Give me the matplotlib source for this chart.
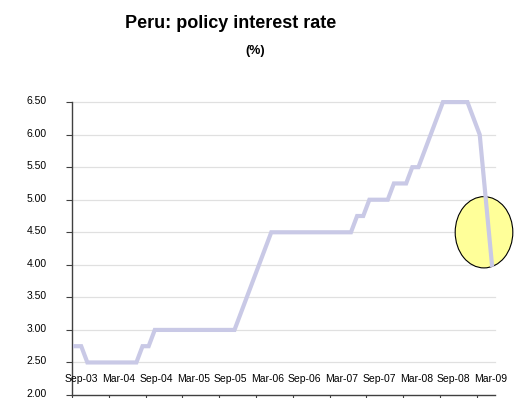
import matplotlib
matplotlib.use('Agg')
import matplotlib.pyplot as plt
from matplotlib.patches import Ellipse
import matplotlib.transforms as mtransforms
import numpy as np

plt.rcParams['font.family'] = ['Liberation Sans', 'DejaVu Sans']

# monthly policy rate [%], Sep-03 .. May-09
rate = [
    2.75, 2.75, 2.50, 2.50, 2.50, 2.50, 2.50, 2.50, 2.50, 2.50, 2.50, 2.75,
    2.75, 3.00, 3.00, 3.00, 3.00, 3.00, 3.00, 3.00, 3.00, 3.00, 3.00, 3.00,
    3.00, 3.00, 3.00, 3.25, 3.50, 3.75, 4.00, 4.25, 4.50, 4.50, 4.50, 4.50,
    4.50, 4.50, 4.50, 4.50, 4.50, 4.50, 4.50, 4.50, 4.50, 4.50, 4.75, 4.75,
    5.00, 5.00, 5.00, 5.00, 5.25, 5.25, 5.25, 5.50, 5.50, 5.75, 6.00, 6.25,
    6.50, 6.50, 6.50, 6.50, 6.50, 6.25, 6.00, 5.00, 4.00,
]
tick_labels = ['Sep-03', 'Mar-04', 'Sep-04', 'Mar-05', 'Sep-05', 'Mar-06',
               'Sep-06', 'Mar-07', 'Sep-07', 'Mar-08', 'Sep-08', 'Mar-09']
yticks = [2.00, 2.50, 3.00, 3.50, 4.00, 4.50, 5.00, 5.50, 6.00, 6.50]

x = np.arange(len(rate))

fig = plt.figure(figsize=(5.2, 3.98), dpi=100)
ax = fig.add_axes([0.1385, 0.0075, 0.8135, 0.736])

ax.set_xlim(-0.5, len(rate) - 0.5)
ax.set_ylim(2.0, 6.5)

for y in yticks[1:]:
    ax.axhline(y, color='#e0e0e0', lw=0.9, zorder=0, clip_on=False)

# highlight of the latest cuts
ax.add_patch(Ellipse((66.7, 4.5), 9.4, 1.095, facecolor='#ffff99',
                     edgecolor='black', lw=0.8, zorder=2, clip_on=False))

ax.plot(x, rate, color='#c9c9e6', lw=3.0, solid_joinstyle='miter',
        zorder=3, clip_on=False)

ax.set_yticks(yticks)
ax.set_yticklabels([f'{v:.2f}' for v in yticks], fontsize=7.5)
ax.tick_params(axis='y', length=4, width=0.8, color='#404040', pad=14)
shift = mtransforms.ScaledTranslation(0, 2 / 100, fig.dpi_scale_trans)
for lab in ax.get_yticklabels():
    lab.set_transform(lab.get_transform() + shift)

ax.set_xticks(np.arange(-0.5, len(rate), 6))
ax.set_xticklabels([])
ax.tick_params(axis='x', length=3, width=0.8, color='#404040')
for i, lab in enumerate(tick_labels):
    ax.text(1.05 + i * 6.07, 2.25, lab, ha='center', va='center', fontsize=7.5)

for s in ['top', 'right']:
    ax.spines[s].set_visible(False)
for s in ['left', 'bottom']:
    ax.spines[s].set_color('#404040')
    ax.spines[s].set_linewidth(1.0)

fig.text(0.443, 0.94, 'Peru: policy interest rate', ha='center', va='center',
         fontsize=13, fontweight='bold')
fig.text(0.49, 0.872, '(%)', ha='center', va='center', fontsize=9,
         fontweight='bold')

fig.savefig('out.png', dpi=100)
